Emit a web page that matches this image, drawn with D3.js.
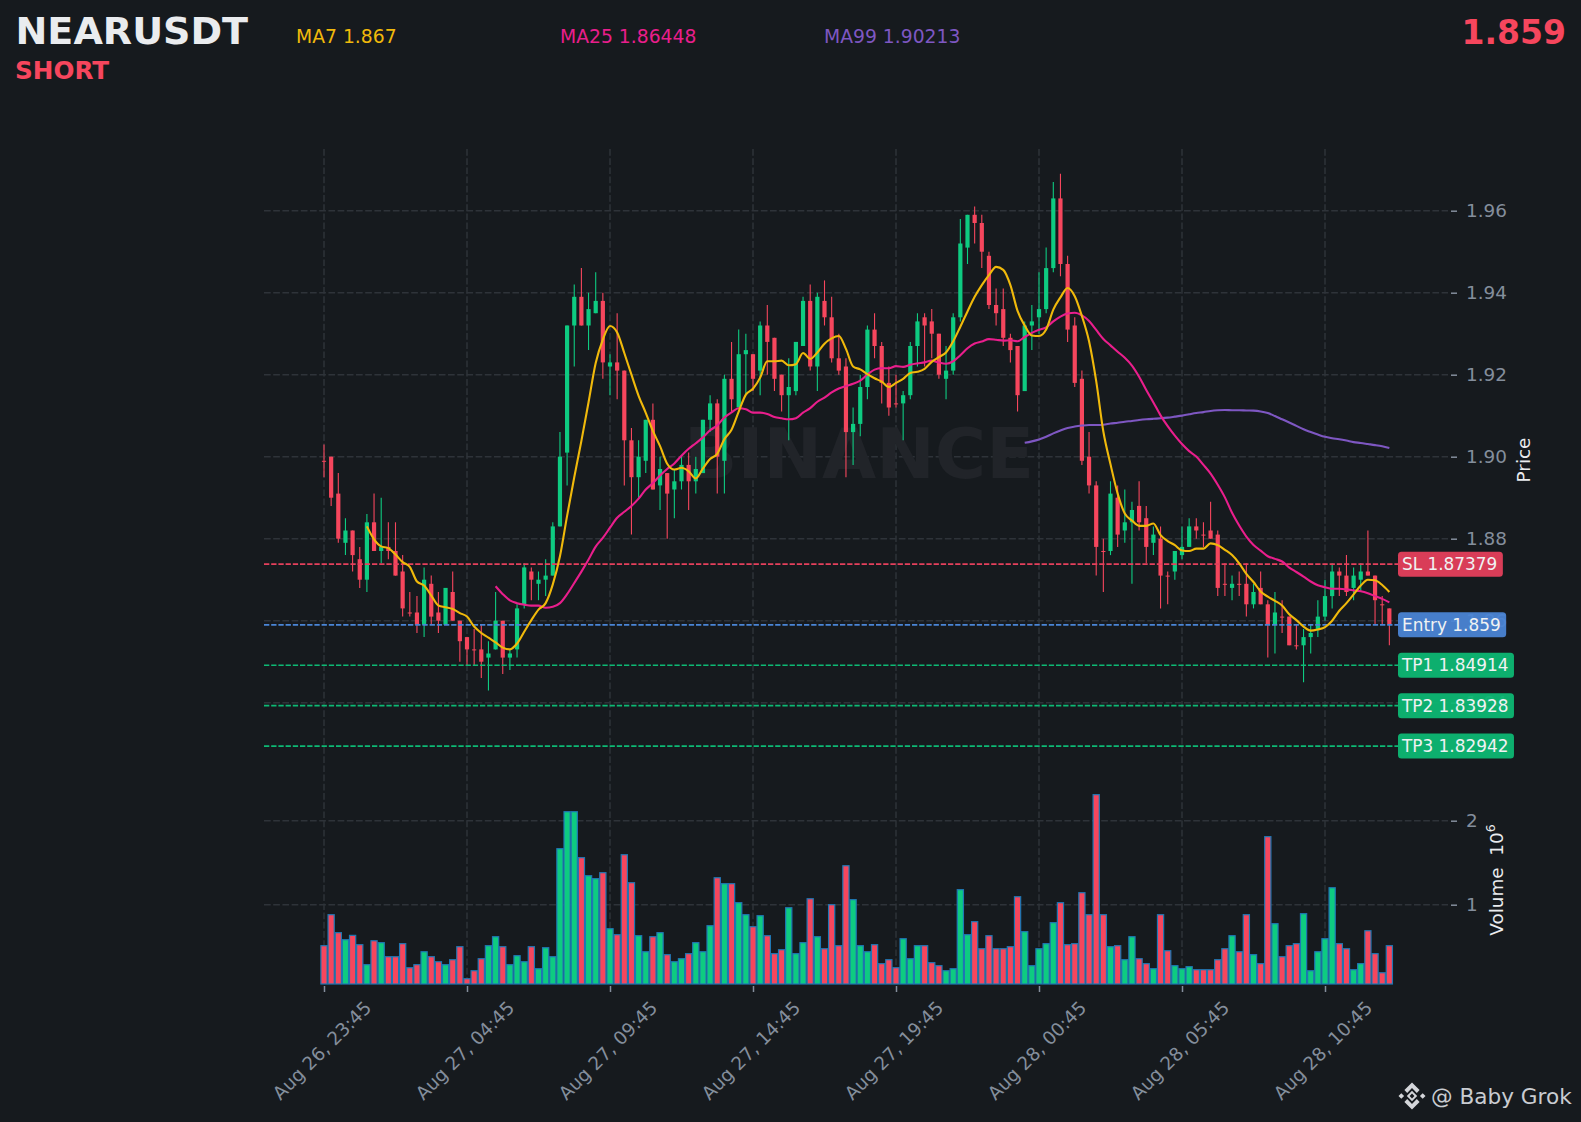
<!DOCTYPE html>
<html><head><meta charset="utf-8">
<script src="https://cdn.jsdelivr.net/npm/d3@7"></script>
<style>html,body{margin:0;padding:0;background:#161a1e}svg{display:block}text{font-family:"DejaVu Sans",sans-serif}</style>
</head><body><svg id="c" width="1581" height="1122"></svg>
<script>
const tickLabels=["Aug 26, 23:45","Aug 27, 04:45","Aug 27, 09:45","Aug 27, 14:45","Aug 27, 19:45","Aug 28, 00:45","Aug 28, 05:45","Aug 28, 10:45"];
const tickIndex=[0,20,40,60,80,100,120,140];
const priceTicks=[1.96,1.94,1.92,1.90,1.88,1.86,1.84];
const volumeTicks=[1,2];
const opens=[1.899,1.900,1.891,1.879,1.882,1.875,1.870,1.884,1.877,1.878,
1.877,1.872,1.862,1.862,1.859,1.869,1.862,1.859,1.867,1.860,
1.856,1.853,1.853,1.851,1.853,1.860,1.851,1.853,1.864,1.872,
1.869,1.870,1.871,1.883,1.901,1.932,1.939,1.932,1.935,1.938,
1.922,1.923,1.921,1.904,1.895,1.899,1.909,1.893,1.896,1.892,
1.894,1.898,1.894,1.896,1.909,1.913,1.899,1.919,1.912,1.925,
1.925,1.921,1.932,1.929,1.920,1.915,1.916,1.927,1.938,1.922,
1.938,1.934,1.924,1.922,1.906,1.908,1.917,1.931,1.927,1.918,
1.913,1.913,1.915,1.927,1.934,1.933,1.930,1.919,1.921,1.934,
1.951,1.959,1.957,1.949,1.937,1.936,1.929,1.927,1.916,1.932,
1.934,1.936,1.946,1.963,1.947,1.932,1.919,1.900,1.893,1.877,
1.877,1.890,1.882,1.884,1.888,1.885,1.879,1.880,1.871,1.872,
1.876,1.878,1.883,1.881,1.882,1.881,1.869,1.868,1.869,1.869,
1.864,1.868,1.864,1.859,1.861,1.861,1.854,1.854,1.856,1.858,
1.861,1.866,1.872,1.871,1.868,1.870,1.872,1.871,1.864,1.863];
const highs=[1.903,1.900,1.896,1.885,1.882,1.878,1.886,1.891,1.890,1.884,
1.884,1.876,1.867,1.866,1.873,1.871,1.867,1.868,1.872,1.860,
1.856,1.858,1.859,1.855,1.867,1.860,1.853,1.864,1.874,1.873,
1.872,1.875,1.884,1.906,1.932,1.942,1.946,1.940,1.945,1.940,
1.925,1.935,1.921,1.907,1.904,1.909,1.913,1.900,1.896,1.897,
1.900,1.901,1.900,1.909,1.915,1.914,1.920,1.928,1.931,1.930,
1.925,1.933,1.937,1.929,1.920,1.924,1.928,1.939,1.942,1.940,
1.943,1.939,1.930,1.924,1.912,1.920,1.932,1.935,1.928,1.922,
1.920,1.916,1.928,1.935,1.935,1.936,1.930,1.927,1.935,1.958,
1.959,1.961,1.959,1.950,1.941,1.941,1.930,1.927,1.933,1.937,
1.945,1.951,1.967,1.969,1.949,1.934,1.921,1.906,1.894,1.880,
1.894,1.893,1.892,1.889,1.894,1.888,1.883,1.883,1.872,1.877,
1.883,1.885,1.885,1.884,1.889,1.882,1.874,1.871,1.872,1.874,
1.869,1.872,1.865,1.867,1.865,1.861,1.859,1.858,1.859,1.865,
1.870,1.874,1.873,1.876,1.873,1.874,1.882,1.871,1.866,1.863];
const lows=[1.895,1.888,1.879,1.876,1.872,1.868,1.867,1.877,1.874,1.875,
1.871,1.861,1.861,1.857,1.856,1.859,1.857,1.859,1.860,1.850,
1.849,1.849,1.846,1.843,1.853,1.847,1.848,1.851,1.863,1.865,
1.865,1.866,1.871,1.883,1.893,1.922,1.932,1.926,1.935,1.919,
1.915,1.914,1.893,1.881,1.890,1.896,1.892,1.887,1.880,1.885,
1.892,1.887,1.891,1.896,1.906,1.891,1.891,1.911,1.912,1.915,
1.916,1.915,1.920,1.916,1.911,1.904,1.915,1.927,1.921,1.916,
1.932,1.923,1.920,1.895,1.898,1.905,1.914,1.924,1.913,1.910,
1.912,1.904,1.914,1.922,1.922,1.924,1.919,1.914,1.920,1.933,
1.947,1.952,1.946,1.936,1.932,1.927,1.923,1.911,1.916,1.926,
1.930,1.935,1.945,1.944,1.928,1.917,1.898,1.891,1.871,1.867,
1.876,1.878,1.879,1.869,1.882,1.874,1.876,1.863,1.864,1.870,
1.875,1.878,1.880,1.878,1.880,1.866,1.866,1.865,1.866,1.861,
1.863,1.864,1.851,1.852,1.857,1.854,1.853,1.845,1.852,1.856,
1.860,1.863,1.866,1.866,1.865,1.867,1.871,1.859,1.859,1.854];
const closes=[1.899,1.890,1.880,1.882,1.876,1.870,1.884,1.877,1.878,1.877,
1.871,1.863,1.862,1.859,1.870,1.861,1.860,1.868,1.860,1.855,
1.853,1.853,1.850,1.852,1.860,1.851,1.852,1.863,1.873,1.870,
1.870,1.871,1.883,1.900,1.932,1.939,1.932,1.936,1.938,1.923,
1.923,1.921,1.904,1.895,1.900,1.909,1.892,1.897,1.891,1.894,
1.898,1.894,1.897,1.909,1.913,1.900,1.919,1.914,1.925,1.926,
1.919,1.932,1.928,1.919,1.915,1.917,1.928,1.938,1.922,1.939,
1.934,1.924,1.921,1.906,1.908,1.917,1.931,1.927,1.918,1.912,
1.913,1.915,1.927,1.933,1.932,1.930,1.920,1.921,1.934,1.952,
1.959,1.957,1.950,1.937,1.935,1.929,1.926,1.915,1.932,1.933,
1.936,1.946,1.963,1.947,1.931,1.918,1.899,1.893,1.878,1.877,
1.891,1.881,1.884,1.887,1.884,1.878,1.881,1.871,1.871,1.877,
1.878,1.883,1.882,1.881,1.880,1.868,1.869,1.869,1.869,1.864,
1.867,1.864,1.859,1.862,1.861,1.854,1.854,1.856,1.857,1.861,
1.866,1.872,1.871,1.867,1.871,1.872,1.871,1.865,1.864,1.859];
const volumes=[0.512,0.881,0.667,0.583,0.635,0.524,0.286,0.571,0.548,0.381,
0.381,0.536,0.25,0.286,0.44,0.381,0.321,0.286,0.345,0.5,
0.119,0.214,0.357,0.512,0.619,0.5,0.286,0.393,0.321,0.5,
0.238,0.488,0.381,1.667,2.107,2.107,1.56,1.345,1.31,1.381,
0.714,0.643,1.595,1.262,0.631,0.44,0.619,0.667,0.405,0.321,
0.357,0.417,0.548,0.44,0.75,1.321,1.25,1.25,1.024,0.881,
0.738,0.869,0.631,0.417,0.464,0.964,0.417,0.548,1.071,0.619,
0.476,1.0,0.512,1.464,1.06,0.512,0.44,0.524,0.298,0.345,
0.25,0.595,0.357,0.512,0.512,0.31,0.274,0.214,0.238,1.179,
0.643,0.798,0.476,0.631,0.476,0.476,0.5,1.095,0.679,0.274,
0.476,0.536,0.786,1.024,0.524,0.536,1.143,0.881,2.31,0.881,
0.5,0.512,0.345,0.619,0.357,0.298,0.238,0.881,0.452,0.274,
0.238,0.262,0.226,0.226,0.226,0.345,0.476,0.631,0.44,0.881,
0.405,0.298,1.81,0.774,0.381,0.512,0.536,0.893,0.214,0.44,
0.595,1.202,0.536,0.476,0.226,0.298,0.69,0.417,0.19,0.512];
const ma7Start=6;
const ma7=[1.883,1.87986,1.87814,1.87771,1.87614,1.87429,1.87314,1.86957,1.86857,1.86614,
1.86371,1.86329,1.86286,1.86186,1.861,1.85857,1.857,1.85586,1.85471,1.85343,
1.853,1.85443,1.85729,1.86014,1.86271,1.86429,1.86886,1.87571,1.88557,1.895,
1.90386,1.91329,1.92286,1.92857,1.93186,1.93029,1.92529,1.92,1.91486,1.91071,
1.90629,1.90257,1.89829,1.89686,1.89729,1.89643,1.89471,1.89714,1.89943,1.90071,
1.90429,1.90657,1.911,1.91514,1.91657,1.91929,1.92329,1.92329,1.92343,1.92229,
1.92257,1.92529,1.92386,1.92543,1.92757,1.92886,1.92943,1.92629,1.922,1.92129,
1.92014,1.91914,1.91829,1.917,1.918,1.919,1.92043,1.92071,1.92143,1.92314,
1.92429,1.92543,1.92814,1.93171,1.93543,1.939,1.94186,1.94429,1.94629,1.94557,
1.94186,1.93557,1.932,1.92957,1.92943,1.931,1.93586,1.93886,1.94114,1.93914,
1.93429,1.92814,1.91843,1.90614,1.89814,1.891,1.88614,1.88443,1.88314,1.88314,
1.88371,1.88086,1.87943,1.87843,1.87714,1.877,1.87757,1.87757,1.87886,1.87843,
1.87729,1.876,1.874,1.87143,1.86943,1.86714,1.86586,1.86486,1.86371,1.86157,
1.86014,1.85857,1.85757,1.85786,1.85843,1.86,1.86243,1.86429,1.86643,1.86857,
1.87,1.86986,1.86871,1.867];
const ma25Start=24;
const ma25=[1.8684,1.86648,1.86496,1.86428,1.86392,1.86368,1.86368,1.86316,1.8634,1.86428,
1.86648,1.8692,1.87196,1.87492,1.87808,1.8802,1.88268,1.88512,1.88656,1.88796,
1.88976,1.892,1.89356,1.89544,1.897,1.89836,1.90024,1.90192,1.90328,1.90472,
1.90644,1.90764,1.90956,1.9108,1.9118,1.91156,1.91076,1.91076,1.91044,1.90968,
1.90936,1.90912,1.9094,1.91076,1.91184,1.9134,1.9144,1.91568,1.91664,1.91724,
1.9178,1.91856,1.92004,1.92124,1.9216,1.92156,1.92208,1.92192,1.92244,1.92276,
1.923,1.92344,1.92296,1.92268,1.92328,1.92476,1.92644,1.9276,1.92808,1.92868,
1.92852,1.92832,1.9284,1.92816,1.9292,1.9302,1.93096,1.93156,1.933,1.93416,
1.93492,1.93512,1.93448,1.93312,1.93092,1.92872,1.92716,1.9256,1.92412,1.92224,
1.91952,1.91628,1.91324,1.91008,1.90744,1.90512,1.90308,1.90136,1.90004,1.898,
1.89588,1.89316,1.89008,1.88632,1.8832,1.88052,1.87848,1.87708,1.87572,1.87508,
1.87444,1.87296,1.87188,1.87076,1.86956,1.86864,1.86816,1.8678,1.8678,1.86764,
1.8674,1.86716,1.86668,1.866,1.86532,1.86448];
const ma99Start=98;
const ma99=[1.90339,1.90374,1.9042,1.90487,1.90569,1.9064,1.90702,1.90736,1.90759,1.90774,
1.90775,1.90781,1.90809,1.90828,1.90854,1.90871,1.90894,1.90912,1.90925,1.90936,
1.90953,1.90977,1.91002,1.91035,1.91066,1.91087,1.91116,1.91132,1.91138,1.91134,
1.91133,1.91127,1.91123,1.91104,1.91063,1.90992,1.90913,1.90834,1.90752,1.90669,
1.90602,1.90539,1.90484,1.90452,1.90427,1.90394,1.90356,1.90335,1.90309,1.90283,
1.90253,1.90213];
const levelNames=["SL 1.87379","Entry 1.859","TP1 1.84914","TP2 1.83928","TP3 1.82942"];
const levelPrices=[1.87379,1.859,1.84914,1.83928,1.82942];
const levelColors=["#e5405c","#4a85d6","#0db974","#0db974","#0db974"];
const legendNames=["MA7 1.867","MA25 1.86448","MA99 1.90213"];
const legendColors=["#f0b90b","#e91e8c","#7e57c2"];

const UP="#0ecb81",DOWN="#f6465d",BG="#161a1e",GRID="#2e3339",TICK="#848e9c";
const svg=d3.select("#c");
svg.append("rect").attr("width",1581).attr("height",1122).attr("fill",BG);
const n=closes.length;
const x=d3.scaleLinear().domain([0,n-1]).range([324,324+7.15*(n-1)]);
const y=d3.scaleLinear().domain([1.96,1.86]).range([210.7,620.7]);
const v=d3.scaleLinear().domain([2,1]).range([820.7,904.7]);
const vBase=984;
const L=264,R=1448,T=149;

// grid
const grid=svg.append("g").attr("stroke",GRID).attr("stroke-width",1.5).attr("stroke-dasharray","6.7,2.5").attr("fill","none");
grid.selectAll(".v").data(tickIndex).join("line").attr("x1",d=>x(d)).attr("x2",d=>x(d)).attr("y1",T).attr("y2",vBase);
grid.selectAll(".p").data(priceTicks).join("line").attr("x1",L).attr("x2",R).attr("y1",d=>y(d)).attr("y2",d=>y(d));
grid.selectAll(".q").data(volumeTicks).join("line").attr("x1",L).attr("x2",R).attr("y1",d=>v(d)).attr("y2",d=>v(d));

// watermark
svg.append("text").attr("x",859).attr("y",478).attr("text-anchor","middle").attr("font-weight","bold").attr("font-size",70).attr("fill","#212429").text("BINANCE");

// volume
svg.append("g").selectAll("rect").data(volumes).join("rect")
 .attr("x",(d,i)=>x(i)-3.1).attr("width",6.2)
 .attr("y",d=>v(d)).attr("height",d=>vBase-v(d))
 .attr("fill",(d,i)=>closes[i]>opens[i]?UP:DOWN)
 .attr("stroke","#1f77b4").attr("stroke-width",1.2);

// candles
const cg=svg.append("g");
const idx=d3.range(n);
cg.selectAll(".w").data(idx).join("line")
 .attr("x1",i=>x(i)).attr("x2",i=>x(i)).attr("y1",i=>y(highs[i])).attr("y2",i=>y(lows[i]))
 .attr("stroke",i=>closes[i]>opens[i]?UP:DOWN).attr("stroke-width",1.1);
cg.selectAll(".b").data(idx).join("rect")
 .attr("x",i=>x(i)-2.1).attr("width",4.2)
 .attr("y",i=>Math.min(y(opens[i]),y(closes[i])))
 .attr("height",i=>Math.max(1,Math.abs(y(opens[i])-y(closes[i]))))
 .attr("fill",i=>closes[i]>opens[i]?UP:DOWN);

// level lines
svg.append("g").selectAll("line").data(levelPrices).join("line")
 .attr("x1",L).attr("x2",1398).attr("y1",d=>y(d)).attr("y2",d=>y(d))
 .attr("stroke",(d,i)=>levelColors[i]).attr("stroke-width",1.7).attr("stroke-dasharray","5.3,1.9");

// moving averages
const lineFor=(start)=>d3.line().x((d,i)=>x(i+start)).y(d=>y(d)).curve(d3.curveMonotoneX);
[[ma99,ma99Start,legendColors[2]],[ma25,ma25Start,legendColors[1]],[ma7,ma7Start,legendColors[0]]].forEach(([a,s,c])=>{
 svg.append("path").datum(a).attr("d",lineFor(s)).attr("fill","none").attr("stroke",c).attr("stroke-width",2.1).attr("stroke-linejoin","round");
});

// axes
function styleAxis(g){
 g.select(".domain").remove();
 g.selectAll(".tick line").attr("stroke",TICK).attr("stroke-width",1.5);
 g.selectAll(".tick text").attr("fill",TICK).attr("font-size",18.4).attr("font-family",'"DejaVu Sans",sans-serif');
}
const pa=svg.append("g").attr("transform","translate(1451,0)").call(d3.axisRight(y).tickValues(priceTicks).tickFormat(d3.format(".2f")).tickSize(6).tickPadding(9));
styleAxis(pa);
const va=svg.append("g").attr("transform","translate(1451,0)").call(d3.axisRight(v).tickValues(volumeTicks).tickFormat(d3.format("d")).tickSize(6).tickPadding(9));
styleAxis(va);
const xa=svg.append("g").attr("transform","translate(0,986)").call(d3.axisBottom(x).tickValues(tickIndex).tickFormat((d,i)=>tickLabels[i]).tickSize(6));
styleAxis(xa);
xa.selectAll(".tick text").attr("text-anchor","middle").attr("transform","translate(2,69) rotate(-45)").attr("y",0).attr("dy",0).attr("x",0);

// level labels
const lg=svg.append("g").selectAll("g").data(levelPrices).join("g").attr("transform",d=>`translate(1398,${y(d)})`);
lg.append("rect").attr("x",0).attr("y",-12.5).attr("height",25).attr("rx",3.5).attr("fill",(d,i)=>levelColors[i]).attr("opacity",.94);
lg.append("text").attr("x",4).attr("y",6).attr("font-size",16.9).attr("fill","#f0f2f3").text((d,i)=>levelNames[i]);
lg.each(function(){const g=d3.select(this);const w=g.select("text").node().getComputedTextLength();g.select("rect").attr("width",w+9.5);});

// header
svg.append("text").attr("x",15.5).attr("y",43.5).attr("font-size",38.1).attr("font-weight","bold").attr("fill","#eaecef").text("NEARUSDT");
svg.append("text").attr("x",15).attr("y",79).attr("font-size",24.7).attr("font-weight","bold").attr("fill",DOWN).text("SHORT");
svg.selectAll(".leg").data(legendNames).join("text").attr("x",(d,i)=>[296,560,824][i]).attr("y",43).attr("font-size",18.75).attr("fill",(d,i)=>legendColors[i]).text(d=>d);
svg.append("text").attr("x",1566).attr("y",44).attr("text-anchor","end").attr("font-size",33).attr("font-weight","bold").attr("fill",DOWN).text("1.859");

// axis titles
svg.append("text").attr("transform","translate(1530,460) rotate(-90)").attr("text-anchor","middle").attr("font-size",18.4).attr("fill","#eaecef").text("Price");
const vt=svg.append("text").attr("transform","translate(1503,880) rotate(-90)").attr("text-anchor","middle").attr("font-size",18.4).attr("fill","#eaecef");
vt.append("tspan").text("Volume\u00a0\u00a010");
vt.append("tspan").attr("dy",-8).attr("font-size",12.5).text("6");

// brand
const bg=svg.append("g").attr("transform","translate(1412,1096)").attr("fill","#d4d6da");
bg.append("path").attr("d","M0,-5.2L5.2,0L0,5.2L-5.2,0Z M0,-13.5L7.6,-5.9L4.8,-3.1L0,-7.9L-4.8,-3.1L-7.6,-5.9Z M0,13.5L-7.6,5.9L-4.8,3.1L0,7.9L4.8,3.1L7.6,5.9Z M-13.5,0L-10.7,-2.8L-7.9,0L-10.7,2.8Z M13.5,0L10.7,-2.8L7.9,0L10.7,2.8Z");
bg.append("path").attr("d","M0,-2.4L2.4,0L0,2.4L-2.4,0Z").attr("fill",BG);
svg.append("text").attr("x",1431).attr("y",1104).attr("font-size",21.6).attr("fill","#c9ccd1").text("@ Baby Grok");
</script></body></html>
